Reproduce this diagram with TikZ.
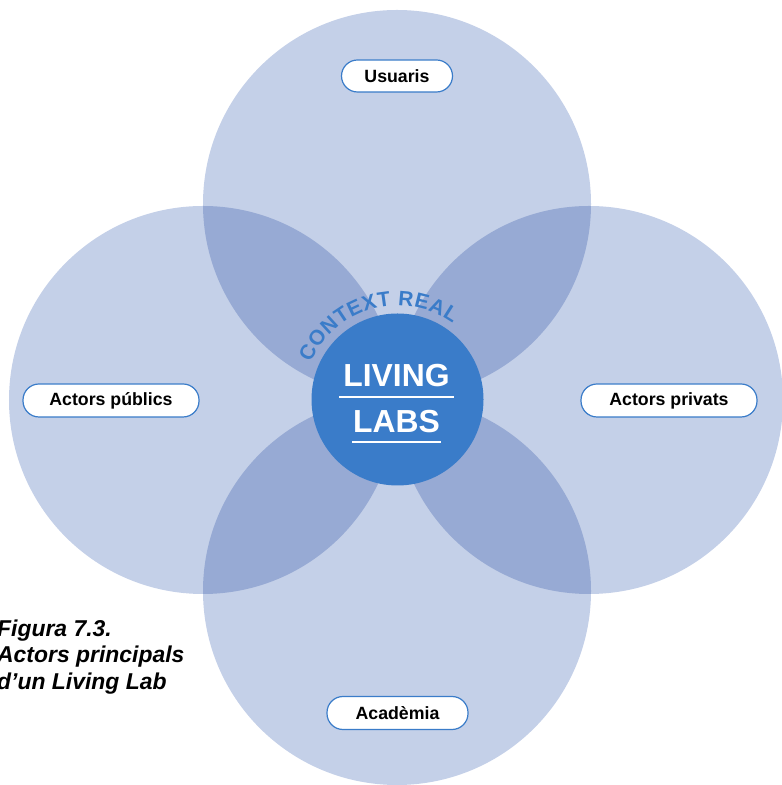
\documentclass[tikz,border=0pt]{standalone}
\usepackage{fontspec}
\setmainfont{Liberation Sans}
\usetikzlibrary{decorations.text}
\definecolor{lightc}{RGB}{196,208,232}
\definecolor{darkc}{RGB}{151,170,212}
\definecolor{coreblue}{RGB}{58,124,201}
\begin{document}
\begin{tikzpicture}[x=1bp,y=1bp,
  petal/.style={fill=lightc},
  lens/.style={fill=darkc},
  actor/.style={draw=coreblue, line width=1.2bp, fill=white, rounded corners=16bp,
    font=\bfseries\fontsize{17.8}{20}\selectfont, inner sep=0pt, minimum height=33bp, text=black},
  coretext/.style={text=white, font=\bfseries\fontsize{32}{34}\selectfont, inner sep=0pt, anchor=base},
  uline/.style={draw=white, line width=2.6bp},
  caption/.style={font=\bfseries\itshape\fontsize{23}{27}\selectfont, anchor=base west, inner sep=0pt, text=black}
]
\useasboundingbox (0,0) rectangle (782,785);
\coordinate (ctop) at (397,581);
\coordinate (cbot) at (397,194);
\coordinate (cleft) at (203,385);
\coordinate (cright) at (589,385);
% petals
\fill[petal] (ctop) circle[radius=194bp];
\fill[petal] (cbot) circle[radius=194bp];
\fill[petal] (cleft) circle[radius=194bp];
\fill[petal] (cright) circle[radius=194bp];
% overlaps
\begin{scope}
  \clip (ctop) circle[radius=194bp];
  \fill[lens] (cleft) circle[radius=194bp];
  \fill[lens] (cright) circle[radius=194bp];
\end{scope}
\begin{scope}
  \clip (cbot) circle[radius=194bp];
  \fill[lens] (cleft) circle[radius=194bp];
  \fill[lens] (cright) circle[radius=194bp];
\end{scope}
% core
\node[circle, fill=coreblue, minimum size=172bp, inner sep=0pt] (core) at (397.5,385.5) {};
\path[decorate, decoration={text along path, text={|\bfseries\fontsize{21}{21}\selectfont|CONTEXT REAL},
   text color=coreblue, text align={fit to path}}]
   ([shift={(157:94bp)}]core.center) arc[start angle=157, end angle=54, radius=94bp];
\node[coretext] (living) at (396.5,398) {LIVING};
\node[coretext] (labs) at (396.5,352) {LABS};
\draw[uline] (339,388) -- (454,388);
\draw[uline] (352,343) -- (441,343);
% actors
\node[actor, minimum width=111bp, minimum height=32bp] (usuaris) at (397,709) {Usuaris};
\node[actor, minimum width=176bp] (publics) at (111,384.5) {Actors públics};
\node[actor, minimum width=176bp] (privats) at (669,384.5) {Actors privats};
\node[actor, minimum width=141bp] (academia) at (397.5,72) {Acadèmia};
% caption
\node[caption] (cap1) at (-3,148) {Figura 7.3.};
\node[caption] (cap2) at (-3,122) {Actors principals};
\node[caption] (cap3) at (-3,95) {d’un Living Lab};
\end{tikzpicture}
\end{document}
